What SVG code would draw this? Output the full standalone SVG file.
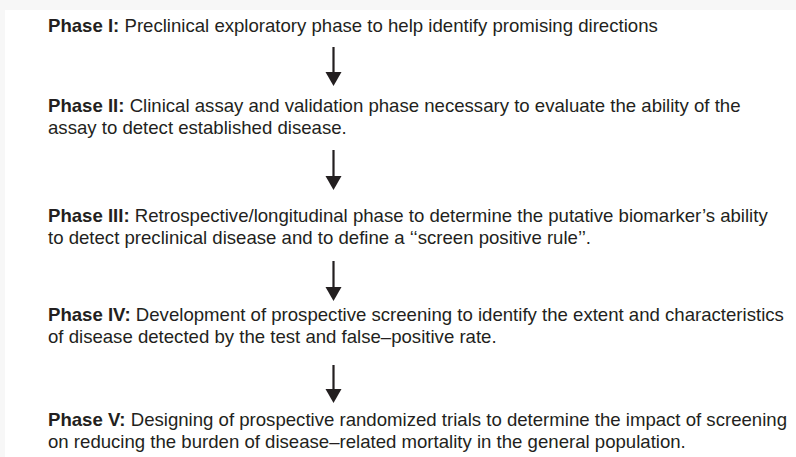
<svg xmlns="http://www.w3.org/2000/svg" width="796" height="457" viewBox="0 0 796 457">
  <style>
    .t { font-family: "Liberation Sans", Arial, Helvetica, sans-serif; font-size: 18.6px; fill: #231f20; }
    .b { font-weight: bold; }
    .arrow line { stroke: #231f20; stroke-width: 2.2; }
    .arrow path { fill: #231f20; }
  </style>

  <!-- page background with a soft edge at top and left -->
  <rect x="0" y="0" width="796" height="457" fill="#f7f7f7"/>
  <rect x="5" y="10" width="791" height="447" fill="#ffffff"/>

  <g id="phase1">
    <text class="t" x="48" y="32"><tspan class="b">Phase I:</tspan> Preclinical exploratory phase to help identify promising directions</text>
  </g>
  <g id="phase2">
    <text class="t" x="48" y="112"><tspan class="b">Phase II:</tspan> Clinical assay and validation phase necessary to evaluate the ability of the</text>
    <text class="t" x="48" y="134">assay to detect established disease.</text>
  </g>
  <g id="phase3">
    <text class="t" x="48" y="222"><tspan class="b">Phase III:</tspan> Retrospective/longitudinal phase to determine the putative biomarker’s ability</text>
    <text class="t" x="48" y="244">to detect preclinical disease and to define a ‘‘screen positive rule’’.</text>
  </g>
  <g id="phase4">
    <text class="t" x="48" y="321"><tspan class="b">Phase IV:</tspan> Development of prospective screening to identify the extent and characteristics</text>
    <text class="t" x="48" y="343">of disease detected by the test and false–positive rate.</text>
  </g>
  <g id="phase5">
    <text class="t" x="48" y="426"><tspan class="b">Phase V:</tspan> Designing of prospective randomized trials to determine the impact of screening</text>
    <text class="t" x="48" y="448">on reducing the burden of disease–related mortality in the general population.</text>
  </g>

  <g id="connectors" class="arrow">
    <line x1="333.5" y1="47" x2="333.5" y2="74"/>
    <path d="M325.5,72 L341.5,72 L333.5,86 Z"/>
    <line x1="333.5" y1="150" x2="333.5" y2="178"/>
    <path d="M325.5,176 L341.5,176 L333.5,190 Z"/>
    <line x1="333.5" y1="261" x2="333.5" y2="289"/>
    <path d="M325.5,287 L341.5,287 L333.5,301 Z"/>
    <line x1="333.5" y1="365" x2="333.5" y2="391"/>
    <path d="M325.5,389 L341.5,389 L333.5,403 Z"/>
  </g>
</svg>
